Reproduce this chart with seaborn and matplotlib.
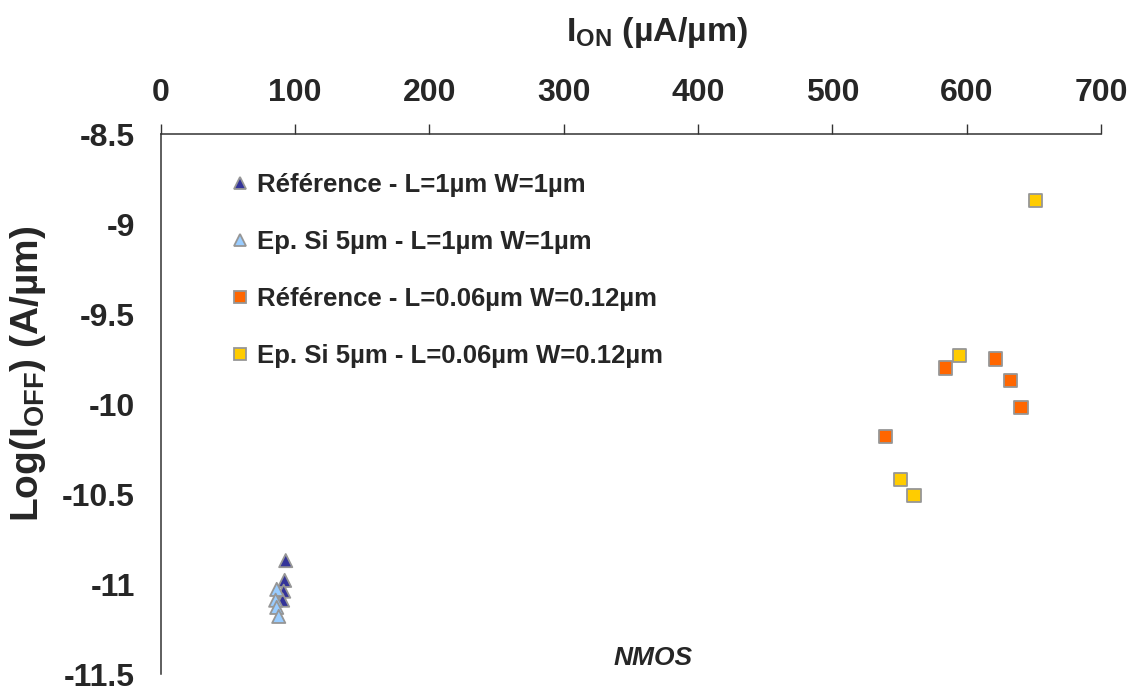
import matplotlib
matplotlib.use("Agg")
from matplotlib import pyplot as plt
import seaborn as sns
import pandas as pd
import numpy as np

# series labels
series = ["Référence - L=1µm W=1µm",
          "Ep. Si 5µm - L=1µm W=1µm",
          "Référence - L=0.06µm W=0.12µm",
          "Ep. Si 5µm - L=0.06µm W=0.12µm"]

# I_ON (uA/um) and log(I_OFF) values
ref_long_ion = [93.2, 92.4, 91.7, 90.9]
ref_long_ioff = [-10.87, -10.98, -11.04, -11.09]
epi_long_ion = [86.5, 85.7, 86.5, 88.0]
epi_long_ioff = [-11.03, -11.09, -11.13, -11.18]
ref_short_ion = [539.7, 584.5, 621.7, 632.9, 640.4]
ref_short_ioff = [-10.18, -9.80, -9.75, -9.87, -10.02]
epi_short_ion = [550.9, 560.8, 594.4, 651.5]
epi_short_ioff = [-10.42, -10.51, -9.73, -8.87]

xticks = [0, 100, 200, 300, 400, 500, 600, 700]
yticks = [-8.5, -9, -9.5, -10, -10.5, -11, -11.5]

colors = ["#333399", "#99CCFF", "#FF6600", "#FFCC00"]
markers = ["^", "^", "s", "s"]

sns.set_style("white")
plt.rcParams["font.family"] = ["Liberation Sans", "DejaVu Sans"]
plt.rcParams["font.weight"] = "bold"
plt.rcParams["mathtext.fontset"] = "custom"
plt.rcParams["mathtext.rm"] = "Liberation Sans:bold"
plt.rcParams["mathtext.it"] = "Liberation Sans:bold"
plt.rcParams["mathtext.bf"] = "Liberation Sans:bold"

xs = [ref_long_ion, epi_long_ion, ref_short_ion, epi_short_ion]
ys = [ref_long_ioff, epi_long_ioff, ref_short_ioff, epi_short_ioff]
df = pd.concat([pd.DataFrame({"ion": x, "ioff": y, "serie": s})
                for x, y, s in zip(xs, ys, series)], ignore_index=True)

fig = plt.figure(figsize=(11.36, 6.88), dpi=100)
ax = fig.add_axes([160.5 / 1136, 1 - 674 / 688, (1101 - 160.5) / 1136, (674 - 134) / 688])

sns.scatterplot(data=df, x="ion", y="ioff", hue="serie", style="serie",
                palette=dict(zip(series, colors)), markers=dict(zip(series, markers)),
                s=90, edgecolor="#969696", linewidth=1.3, ax=ax, zorder=3)

ax.set_xlim(0, 700)
ax.set_ylim(-11.5, -8.5)
ax.set_xticks(xticks)
ax.set_yticks(yticks)
ax.set_yticklabels([("%g" % v) for v in yticks])
ax.xaxis.tick_top()
ax.set_xlabel("")
ax.set_ylabel("")
for side in ["bottom", "right"]:
    ax.spines[side].set_visible(False)
for side in ["top", "left"]:
    ax.spines[side].set_color("#333333")
    ax.spines[side].set_linewidth(1.1)
ax.tick_params(axis="x", direction="out", length=7.5, width=1, color="#333333",
               pad=11, labelsize=23)
ax.tick_params(axis="y", direction="out", length=7.5, width=1, color="#333333",
               pad=11, labelsize=23)
for lab in ax.get_xticklabels() + ax.get_yticklabels():
    lab.set_fontweight("bold")

leg = ax.legend(loc="upper left", bbox_to_anchor=(0.066, 0.947), frameon=False,
                fontsize=18.5, labelspacing=1.29, handlelength=0.55, handletextpad=0.4,
                borderaxespad=0)
for h in leg.legend_handles:
    h.set_markersize(9)
    h.set_markeredgecolor("#969696")
    h.set_markeredgewidth(1.3)
for t in leg.get_texts():
    t.set_fontweight("bold")

fig.text(657 / 1136, 1 - 32 / 688, r"I$_{\mathrm{ON}}$ (µA/µm)", ha="center", va="center",
         fontsize=24.5, fontweight="bold")
fig.text(28 / 1136, 1 - 374 / 688, r"Log(I$_{\mathrm{OFF}}$) (A/µm)", ha="center", va="center",
         rotation=90, fontsize=28, fontweight="bold")
ax.text(367, -11.5 + 16 / 180, "NMOS", ha="center", va="center", fontsize=19,
        fontweight="bold", fontstyle="italic")

fig.savefig("out.png", dpi=100)
